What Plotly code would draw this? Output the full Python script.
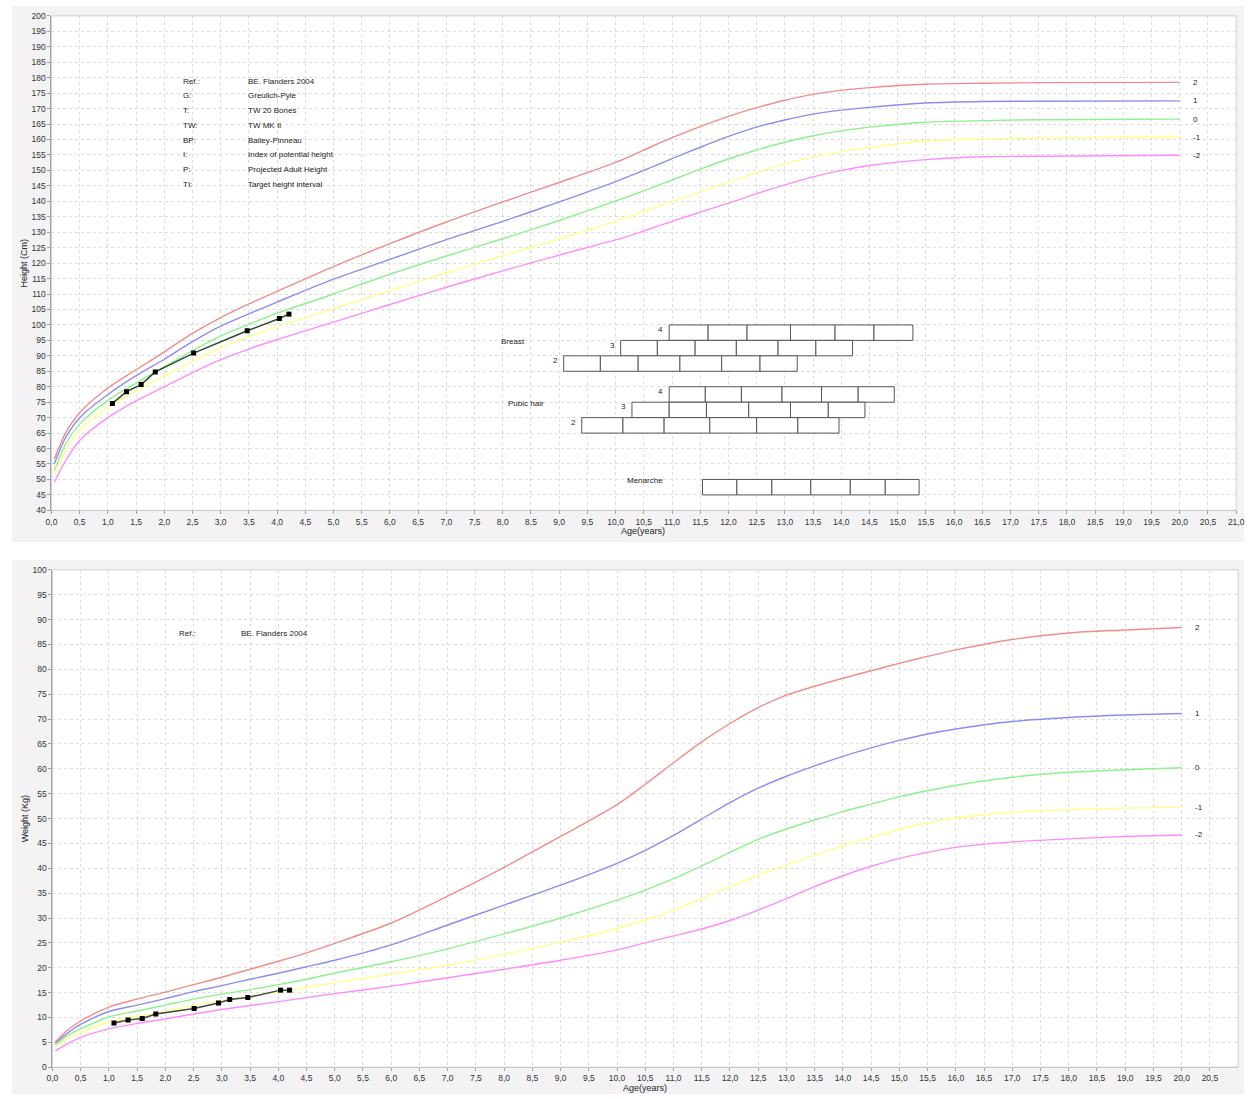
import plotly.graph_objects as go
import numpy as np

W, H = 1259, 1099

# ---------------- DATA ----------------
h_age = [0.05, 0.25, 0.5, 1.0, 1.5, 2.0, 2.5, 3.0, 3.5, 4.0, 5.0, 6.0, 7.0, 8.0, 9.0, 10.0, 10.5,
         11.0, 11.5, 12.0, 12.5, 13.0, 13.5, 14.0, 14.5, 15.5, 16.5, 17.5, 20.0]
h_p2 = [56.6, 65.0, 71.6, 79.6, 85.5, 91.3, 97.3, 102.4, 106.8, 110.9, 118.9, 126.3, 133.3, 139.8, 146.1, 152.6, 156.6,
        160.6, 164.2, 167.5, 170.3, 172.7, 174.6, 175.9, 176.8, 177.9, 178.2, 178.4, 178.5]
h_p1 = [55.0, 63.5, 70.0, 77.5, 83.6, 88.9, 94.6, 99.6, 103.6, 107.4, 114.8, 121.2, 127.6, 133.5, 139.8, 146.4, 150.0,
        153.8, 157.5, 161.0, 164.0, 166.3, 168.2, 169.5, 170.4, 171.8, 172.3, 172.4, 172.5]
h_0 = [52.8, 61.4, 67.9, 75.6, 81.2, 86.4, 91.7, 96.4, 100.2, 103.8, 110.0, 116.4, 122.3, 127.9, 133.8, 140.1, 143.4,
       146.9, 150.4, 153.7, 156.6, 159.1, 161.2, 162.8, 164.0, 165.6, 166.1, 166.4, 166.6]
h_m1 = [51.2, 59.2, 65.8, 73.5, 78.6, 83.5, 88.3, 92.6, 96.2, 99.4, 105.2, 111.1, 116.9, 122.4, 127.8, 133.6, 136.7,
        139.9, 143.0, 146.2, 149.3, 152.1, 154.3, 156.1, 157.4, 159.5, 160.2, 160.5, 160.8]
h_m2 = [49.1, 56.0, 62.6, 70.0, 75.4, 80.0, 84.6, 88.8, 92.2, 95.3, 100.9, 106.6, 112.2, 117.5, 122.6, 127.5, 130.4,
        133.5, 136.5, 139.4, 142.5, 145.3, 147.9, 150.0, 151.6, 153.5, 154.4, 154.6, 154.9]

h_pat_age = [1.08, 1.33, 1.59, 1.84, 2.52, 3.47, 4.04, 4.21]
h_pat_val = [74.6, 78.4, 80.7, 84.8, 90.9, 98.1, 102.1, 103.5]

w_age = [0.05, 0.25, 0.5, 1.0, 1.5, 2.0, 2.5, 3.0, 3.5, 4.0, 4.5, 5.0, 6.0, 7.0, 8.0, 9.0, 10.0, 10.5,
         11.0, 11.5, 12.0, 12.5, 13.0, 13.5, 14.0, 14.5, 15.0, 15.5, 16.0, 17.0, 18.0, 19.0, 20.0]
w_p2 = [5.1, 7.3, 9.3, 12.1, 13.7, 15.1, 16.6, 18.1, 19.7, 21.3, 23.0, 24.9, 29.0, 34.4, 40.2, 46.4, 52.8, 56.9,
        61.2, 65.4, 69.1, 72.3, 74.8, 76.6, 78.2, 79.7, 81.2, 82.6, 83.9, 86.0, 87.3, 87.9, 88.4]
w_p1 = [4.8, 6.7, 8.6, 11.2, 12.5, 13.8, 15.2, 16.4, 17.7, 18.9, 20.2, 21.5, 24.6, 28.6, 32.6, 36.6, 41.0, 43.6,
        46.6, 49.9, 53.2, 56.1, 58.5, 60.6, 62.5, 64.2, 65.7, 67.0, 68.0, 69.5, 70.3, 70.8, 71.1]
w_0 = [4.5, 6.2, 7.7, 10.1, 11.3, 12.5, 13.7, 14.7, 15.6, 16.6, 17.7, 18.9, 21.2, 23.8, 26.8, 30.0, 33.6, 35.6,
       37.9, 40.5, 43.2, 45.8, 47.9, 49.7, 51.4, 52.9, 54.4, 55.6, 56.7, 58.3, 59.3, 59.8, 60.2]
w_m1 = [4.1, 5.6, 6.9, 9.1, 10.2, 11.2, 12.4, 13.4, 14.3, 15.1, 16.0, 17.0, 18.7, 20.5, 22.7, 25.1, 27.9, 29.6,
        31.6, 33.9, 36.3, 38.6, 40.7, 42.6, 44.5, 46.2, 47.8, 49.1, 50.1, 51.2, 51.8, 52.1, 52.3]
w_m2 = [3.3, 4.6, 6.0, 7.7, 8.8, 9.7, 10.7, 11.6, 12.4, 13.2, 14.0, 14.8, 16.3, 18.0, 19.7, 21.5, 23.6, 25.0,
        26.4, 27.8, 29.5, 31.6, 33.9, 36.3, 38.5, 40.4, 42.0, 43.2, 44.2, 45.3, 45.9, 46.4, 46.7]

w_pat_age = [1.09, 1.34, 1.59, 1.83, 2.51, 2.94, 3.14, 3.46, 4.04, 4.20]
w_pat_val = [8.9, 9.5, 9.8, 10.7, 11.8, 12.9, 13.6, 14.0, 15.5, 15.5]

sd_labels = ["2", "1", "0", "-1", "-2"]
sd_colors = ["#f28c8c", "#8c8cf2", "#8cf28c", "#ffff8c", "#ff8cff"]

# pubertal stage boxes: boundaries (ages); rows with bottom/top in cm
breast_4 = [10.95, 11.64, 12.33, 13.10, 13.89, 14.58, 15.27]
breast_3 = [10.09, 10.74, 11.41, 12.14, 12.88, 13.55, 14.20]
breast_2 = [9.08, 9.73, 10.40, 11.14, 11.88, 12.56, 13.22]
pubic_4 = [10.95, 11.59, 12.23, 12.95, 13.65, 14.30, 14.94]
pubic_3 = [10.29, 10.95, 11.61, 12.36, 13.10, 13.77, 14.42]
pubic_2 = [9.40, 10.13, 10.86, 11.67, 12.50, 13.23, 13.96]
menarche = [11.54, 12.15, 12.77, 13.46, 14.16, 14.78, 15.38]
rows = [("4", breast_4, 95, 100), ("3", breast_3, 90, 95), ("2", breast_2, 85, 90),
        ("4", pubic_4, 75, 80), ("3", pubic_3, 70, 75), ("2", pubic_2, 65, 70),
        ("", menarche, 45, 50)]

ref_keys = ["Ref.:", "G:", "T:", "TW:", "BP:", "I:", "P:", "TI:"]
ref_vals = ["BE. Flanders 2004", "Greulich-Pyle", "TW 20 Bones", "TW MK II", "Bailey-Pinneau",
            "Index of potential height", "Projected Adult Height", "Target height interval"]

# ---------------- FIGURE ----------------
FONT = "Liberation Sans, Arial, sans-serif"
fig = go.Figure()

h_series = [h_p2, h_p1, h_0, h_m1, h_m2]
w_series = [w_p2, w_p1, w_0, w_m1, w_m2]
for vals, col in zip(h_series, sd_colors):
    fig.add_trace(go.Scatter(x=h_age, y=vals, mode="lines", line=dict(color=col, width=1.4, shape="spline", smoothing=0.8),
                             xaxis="x", yaxis="y", hoverinfo="skip"))
for vals, col in zip(w_series, sd_colors):
    fig.add_trace(go.Scatter(x=w_age, y=vals, mode="lines", line=dict(color=col, width=1.4, shape="spline", smoothing=0.8),
                             xaxis="x2", yaxis="y2", hoverinfo="skip"))

fig.add_trace(go.Scatter(x=h_pat_age, y=h_pat_val, mode="lines+markers",
                         line=dict(color="#2c4a2c", width=1.5),
                         marker=dict(symbol="square", size=5, color="black"), xaxis="x", yaxis="y"))
fig.add_trace(go.Scatter(x=w_pat_age, y=w_pat_val, mode="lines+markers",
                         line=dict(color="#444444", width=1.5),
                         marker=dict(symbol="square", size=5, color="black"), xaxis="x2", yaxis="y2"))

shapes = []
# grey panels
shapes.append(dict(type="rect", xref="paper", yref="paper", x0=6 / W, x1=1253 / W, y0=1 - 542 / H, y1=1 - 1 / H,
                   fillcolor="#f4f2f5", line=dict(width=0), layer="below"))
shapes.append(dict(type="rect", xref="paper", yref="paper", x0=6 / W, x1=1253 / W, y0=0, y1=1 - 560 / H,
                   fillcolor="#f4f2f5", line=dict(width=0), layer="below"))
for xr, yr in [("x", "y"), ("x2", "y2")]:
    shapes.append(dict(type="rect", xref=xr + " domain", yref=yr + " domain", x0=0, x1=1, y0=0, y1=1,
                       fillcolor="white", line=dict(width=0), layer="below"))
    shapes.append(dict(type="rect", xref=xr + " domain", yref=yr + " domain", x0=0, x1=1, y0=0, y1=1,
                       fillcolor="rgba(0,0,0,0)", line=dict(width=1, color="#d0d0d0"), layer="above"))

for _, b, y0, y1 in rows:
    for i in range(len(b) - 1):
        shapes.append(dict(type="rect", xref="x", yref="y", x0=b[i], x1=b[i + 1], y0=y0, y1=y1,
                           fillcolor="white", line=dict(width=1, color="#555555"), layer="above"))

ann = []
def txt(x, y, t, xref="x", yref="y", xanchor="left", size=8, **kw):
    ann.append(dict(x=x, y=y, xref=xref, yref=yref, text=t, showarrow=False, xanchor=xanchor,
                    yanchor="middle", font=dict(family=FONT, size=size, color="#222"), **kw))

for lab, b, y0, y1 in rows:
    if lab:
        txt(b[0], (y0 + y1) / 2 + 1, lab, xanchor="right", xshift=-4)
txt(7.93, 94.8, "Breast")
txt(8.06, 74.6, "Pubic hair")
txt(10.17, 49.6, "Menarche")

ref_y0 = 178.9
for i, (k, v) in enumerate(zip(ref_keys, ref_vals)):
    txt(2.29, ref_y0 - i * 4.78, k)
    txt(3.44, ref_y0 - i * 4.78, v)
txt(2.20, 87.1, "Ref.:", xref="x2", yref="y2")
txt(3.31, 87.1, "BE. Flanders 2004", xref="x2", yref="y2")

for lab, vals in zip(sd_labels, h_series):
    txt(20.2, vals[-1], lab)
for lab, vals in zip(sd_labels, w_series):
    txt(20.2, vals[-1], lab, xref="x2", yref="y2")

txt(18 / W, 1 - 260 / H, "Height (Cm)", xref="paper", yref="paper", xanchor="center", size=9, textangle=-90)
txt(645 / W, 1 - 531 / H, "Age(years)", xref="paper", yref="paper", xanchor="center", size=9)
txt(19 / W, 1 - 821 / H, "Weight (Kg)", xref="paper", yref="paper", xanchor="center", size=9, textangle=-90)
txt(647 / W, 1 - 1093 / H, "Age(years)", xref="paper", yref="paper", xanchor="center", size=9)

axis_common = dict(showgrid=True, gridcolor="#dcdcdc", griddash="dot", gridwidth=1, zeroline=False,
                   showline=True, linecolor="#a0a0a0", linewidth=1, ticks="outside", ticklen=3,
                   tickcolor="#a0a0a0", tickfont=dict(family=FONT, size=8.5, color="#333"), fixedrange=True)

fig.update_layout(
    width=W, height=H, autosize=False, margin=dict(l=0, r=0, t=0, b=0),
    paper_bgcolor="white", plot_bgcolor="rgba(0,0,0,0)", showlegend=False,
    separators=", ",
    xaxis=dict(domain=[46 / W, 1245 / W], range=[0, 21], tickvals=list(np.arange(0, 21.01, 0.5)),
               tickformat=".1f", anchor="y", **axis_common),
    yaxis=dict(domain=[1 - 510 / H, 1 - 11 / H], range=[40, 200], tickvals=list(range(40, 201, 5)),
               anchor="x", **axis_common),
    xaxis2=dict(domain=[47 / W, 1247 / W], range=[0, 21], tickvals=list(np.arange(0, 20.51, 0.5)),
                tickformat=".1f", anchor="y2", **axis_common),
    yaxis2=dict(domain=[1 - 1072 / H, 1 - 570 / H], range=[0, 100], tickvals=list(range(0, 101, 5)),
                anchor="x2", **axis_common),
    shapes=shapes, annotations=ann,
)

fig.write_html("out.html", config={"displayModeBar": False},
               post_script="document.body.style.margin='0';document.body.style.overflow='hidden';")
